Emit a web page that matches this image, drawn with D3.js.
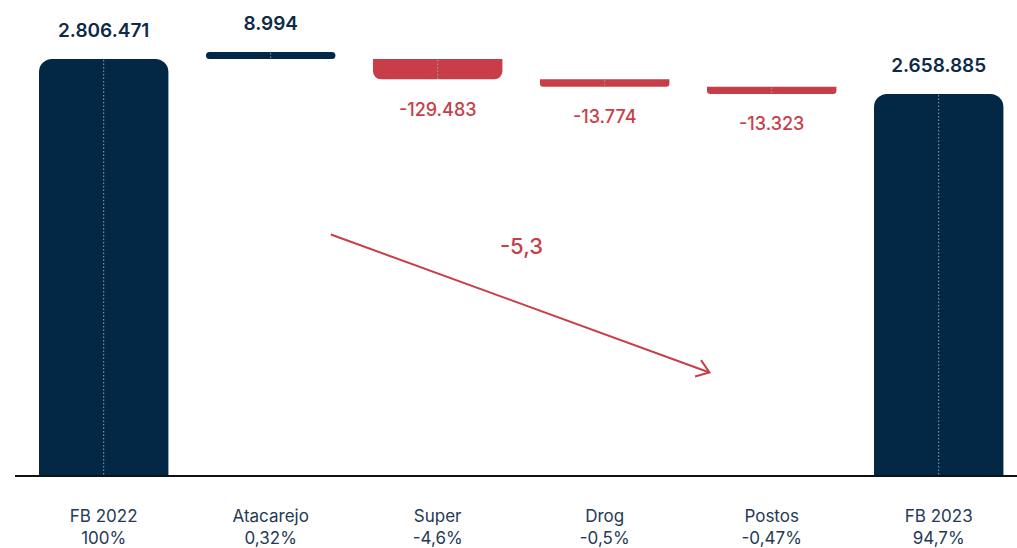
<!DOCTYPE html>
<html>
<head>
<meta charset="utf-8">
<script src="https://cdn.jsdelivr.net/npm/d3@7"></script>
<style>
  html, body { margin: 0; padding: 0; background: #fff; }
  svg { display: block; font-family: Inter, "Noto Sans", sans-serif; }
</style>
</head>
<body>
<div id="chart"></div>
<script>
// waterfall FB 2022 -> FB 2023
const categories = ["FB 2022", "Atacarejo", "Super", "Drog", "Postos", "FB 2023"]
const kinds = ["total", "delta", "delta", "delta", "delta", "total"]
const values = [2806471, 8994, -129483, -13774, -13323, 2658885]
const valueLabels = ["2.806.471", "8.994", "-129.483", "-13.774", "-13.323", "2.658.885"]
const shareLabels = ["100%", "0,32%", "-4,6%", "-0,5%", "-0,47%", "94,7%"]
const changeLabel = "-5,3"

const width = 1017
const height = 548
const navy = "#022845"
const red = "#c83e48"

const svg = d3.select("#chart")
  .append("svg")
  .attr("width", width)
  .attr("height", height)

const x = d3.scaleBand()
  .domain(categories)
  .range([20.2, 1022.2])
  .paddingInner(0.225)
  .paddingOuter(0.1125)

// truncated axis, the totals are read on this one
const y = d3.scaleLinear()
  .domain([1050000, 2900000])
  .range([475.5, 36.8])

// small steps are compressed so they stay visible
const start = values[0]
const end = values[values.length - 1]
const dh = d3.scalePow().exponent(0.45)
  .domain([0, d3.max(values.filter((v, i) => kinds[i] === "delta"), v => Math.abs(v))])
  .range([0, 1])
const negSum = d3.sum(values.filter((v, i) => kinds[i] === "delta" && v < 0), v => dh(-v))
dh.range([0, (y(end) - y(start)) / negSum])

function barPath(x0, y0, w, h, rt, rb) {
  const p = d3.path()
  p.moveTo(x0 + rt, y0)
  p.lineTo(x0 + w - rt, y0)
  p.arcTo(x0 + w, y0, x0 + w, y0 + rt, rt)
  p.lineTo(x0 + w, y0 + h - rb)
  p.arcTo(x0 + w, y0 + h, x0 + w - rb, y0 + h, rb)
  p.lineTo(x0 + rb, y0 + h)
  p.arcTo(x0, y0 + h, x0, y0 + h - rb, rb)
  p.lineTo(x0, y0 + rt)
  p.arcTo(x0, y0, x0 + rt, y0, rt)
  p.closePath()
  return p.toString()
}

// drops chain from the start total, the gain sits on top of it
let level = y(start)
const bars = values.map((v, i) => {
  if (kinds[i] === "total") {
    return { top: y(v), h: y.range()[0] - y(v), fill: navy, rt: 13, rb: 0, label: "above" }
  }
  const h = Math.max(dh(Math.abs(v)), 7)
  if (v >= 0) {
    return { top: level - h, h: h, fill: navy, rt: h / 2, rb: h / 2, label: "above" }
  }
  const b = { top: level, h: h, fill: red, rt: 0, rb: Math.min(8, h / 2 - 0.5), label: "below" }
  level += h
  return b
})

const g = svg.append("g")

bars.forEach((b, i) => {
  const cx = x(categories[i]) + x.bandwidth() / 2
  g.append("path")
    .attr("d", barPath(x(categories[i]), b.top, x.bandwidth(), b.h, b.rt, b.rb))
    .attr("fill", b.fill)

  g.append("line")
    .attr("x1", cx).attr("x2", cx)
    .attr("y1", b.top + 1).attr("y2", b.top + b.h)
    .attr("stroke", "#9aa3ad")
    .attr("stroke-width", 1)
    .attr("stroke-dasharray", "1.5 2")

  g.append("text")
    .attr("x", cx)
    .attr("y", b.label === "above" ? b.top - 21.5 : b.top + b.h + 36.5)
    .attr("text-anchor", "middle")
    .attr("font-size", b.label === "above" ? "19px" : "18px")
    .attr("font-weight", b.label === "above" ? 600 : 500)
    .attr("fill", b.label === "above" ? "#0d2a47" : red)
    .text(valueLabels[i])
})

// baseline
svg.append("line")
  .attr("x1", 15).attr("x2", width)
  .attr("y1", y.range()[0] + 0.5).attr("y2", y.range()[0] + 0.5)
  .attr("stroke", "#111")
  .attr("stroke-width", 2)

// category labels
const cat = svg.append("g")
categories.forEach((c, i) => {
  const t = cat.append("text")
    .attr("x", x(c) + x.bandwidth() / 2)
    .attr("text-anchor", "middle")
    .attr("font-size", "17px")
    .attr("fill", "#243a56")
  t.append("tspan").attr("x", x(c) + x.bandwidth() / 2).attr("y", 522).text(c)
  t.append("tspan").attr("x", x(c) + x.bandwidth() / 2).attr("y", 544).text(shareLabels[i])
})

// trend arrow
const ax0 = x(categories[1]) + x.bandwidth() * 0.965
const ax1 = x(categories[4]) + 2.5
const ay0 = 234.5
const ay1 = 372.5
svg.append("line")
  .attr("x1", ax0).attr("y1", ay0)
  .attr("x2", ax1).attr("y2", ay1)
  .attr("stroke", red)
  .attr("stroke-width", 2)

const ang = Math.atan2(ay1 - ay0, ax1 - ax0)
const headLen = 15
const spread = 0.62
svg.append("path")
  .attr("d", d3.line()([
    [ax1 - headLen * Math.cos(ang - spread), ay1 - headLen * Math.sin(ang - spread)],
    [ax1, ay1],
    [ax1 - headLen * Math.cos(ang + spread), ay1 - headLen * Math.sin(ang + spread)]
  ]))
  .attr("fill", "none")
  .attr("stroke", red)
  .attr("stroke-width", 2)

svg.append("text")
  .attr("x", 521.5)
  .attr("y", 254)
  .attr("text-anchor", "middle")
  .attr("font-size", "22px")
  .attr("font-weight", 500)
  .attr("fill", red)
  .text(changeLabel)
</script>
</body>
</html>
